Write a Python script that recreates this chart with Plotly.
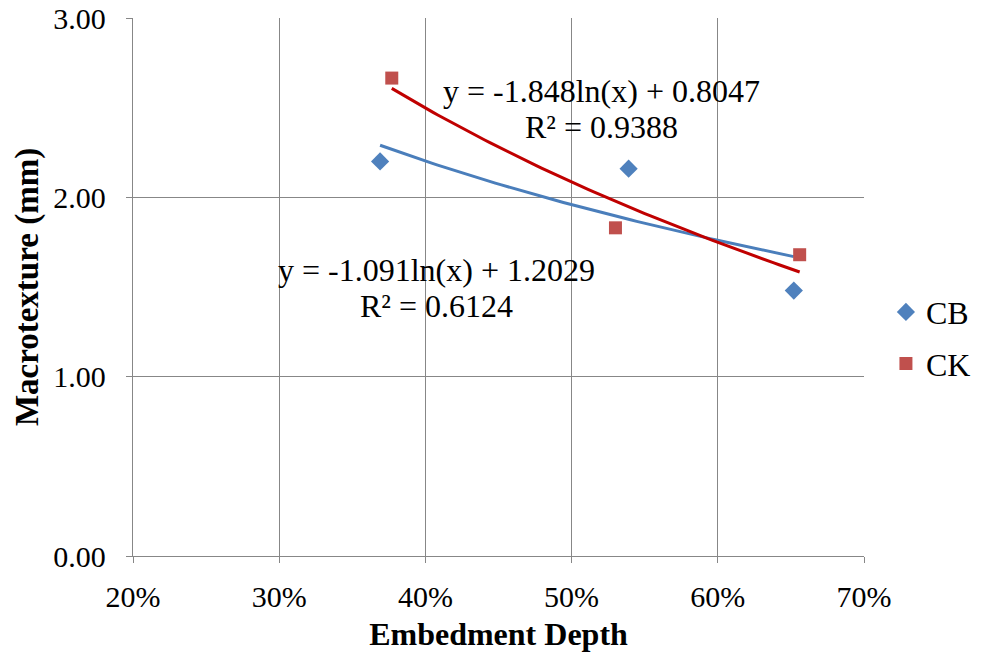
import numpy as np
import plotly.graph_objects as go

# Data
cb_x = [0.369, 0.539, 0.652]
cb_y = [2.20, 2.16, 1.48]
ck_x = [0.377, 0.530, 0.656]
ck_y = [2.665, 1.83, 1.68]

# Trendline coefficients (y = a*ln(x) + b) as shown in chart
cb_a, cb_b, cb_r2 = -1.091, 1.2029, 0.6124
ck_a, ck_b, ck_r2 = -1.848, 0.8047, 0.9388

x_ticks = [0.2, 0.3, 0.4, 0.5, 0.6, 0.7]
y_ticks = [0.0, 1.0, 2.0, 3.0]

FONT = "Liberation Serif"
BLUE = "#4F81BD"
RED = "#C0504D"

fig = go.Figure()

cbt_x = np.linspace(min(cb_x), max(cb_x), 80)
ckt_x = np.linspace(min(ck_x), max(ck_x), 80)
fig.add_trace(go.Scatter(x=cbt_x, y=cb_a * np.log(cbt_x) + cb_b, mode="lines",
                         line=dict(color="#4A7EBB", width=3), showlegend=False, hoverinfo="skip"))
fig.add_trace(go.Scatter(x=ckt_x, y=ck_a * np.log(ckt_x) + ck_b, mode="lines",
                         line=dict(color="#C00000", width=3), showlegend=False, hoverinfo="skip"))

fig.add_trace(go.Scatter(x=cb_x, y=cb_y, mode="markers", name="CB", legendgroup="cb",
                         marker=dict(symbol="diamond", size=14, color=BLUE)))
fig.add_trace(go.Scatter(x=ck_x, y=ck_y, mode="markers", name="CK", legendgroup="ck",
                         marker=dict(symbol="square", size=13, color=RED)))

def eq_text(a, b):
    return f"y = {a:.3f}ln(x) + {b:.4f}"

ann_font = dict(family=FONT, size=32, color="black")
annotations = [
    dict(x=0.5205, y=2.595, text=eq_text(ck_a, ck_b)),
    dict(x=0.5205, y=2.39, text=f"R² = {ck_r2:.4f}"),
    dict(x=0.4075, y=1.595, text=eq_text(cb_a, cb_b)),
    dict(x=0.4075, y=1.395, text=f"R² = {cb_r2:.4f}"),
]
for a in annotations:
    a.update(xref="x", yref="y", showarrow=False, font=ann_font, xanchor="center", yanchor="middle")

axis_common = dict(showgrid=True, gridcolor="#878787", gridwidth=1.3,
                   showline=True, linecolor="#878787", linewidth=1.3,
                   ticks="outside", ticklen=6, tickcolor="#878787", zeroline=False,
                   automargin=False, ticklabeloverflow="allow",
                   tickfont=dict(family=FONT, size=30, color="black"))

fig.update_layout(
    width=1004, height=655,
    margin=dict(l=133, r=140, t=18, b=99),
    plot_bgcolor="white", paper_bgcolor="white",
    annotations=annotations,
    xaxis=dict(range=[0.2, 0.7], tickvals=x_ticks,
               ticktext=[f"{int(round(v*100))}%" for v in x_ticks],
               ticklabelstandoff=8,
               title=dict(text="<b>Embedment Depth</b>", font=dict(family=FONT, size=32, color="black"), standoff=10),
               **axis_common),
    yaxis=dict(range=[0, 3], tickvals=y_ticks, ticktext=[f"{v:.2f}" for v in y_ticks],
               ticklabelstandoff=14,
               title=dict(text="<b>Macrotexture (mm)</b>", font=dict(family=FONT, size=33, color="black"), standoff=4),
               **axis_common),
    legend=dict(x=1.03, y=0.405, xanchor="left", yanchor="middle",
                font=dict(family=FONT, size=32, color="black"),
                tracegroupgap=7, traceorder="grouped", bgcolor="rgba(0,0,0,0)"),
    showlegend=True,
)

fig.write_html("out.html", config={"displayModeBar": False},
               post_script="document.body.style.margin='0';")
